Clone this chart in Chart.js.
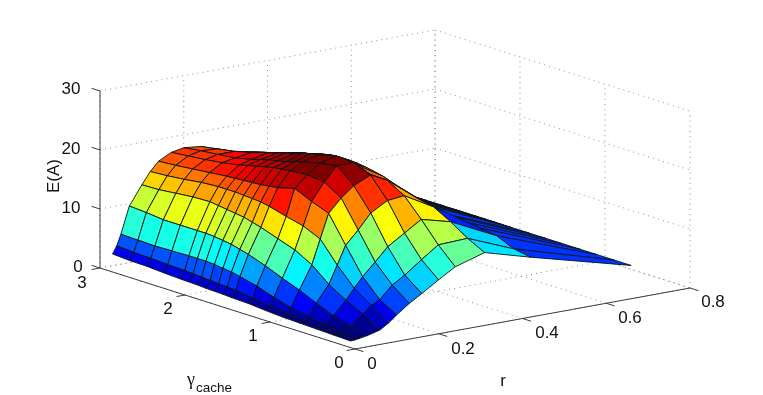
<!DOCTYPE html>
<html><head><meta charset="utf-8">
<style>html,body{margin:0;padding:0;background:#fff}canvas{display:block;filter:blur(0.4px)}</style>
<script src="https://cdn.jsdelivr.net/npm/chart.js@4"></script>
</head><body><canvas id="c" width="763" height="395"></canvas>
<script>
// surface grid
const rValues = [0.03,0.04,0.05,0.07,0.1,0.12,0.14,0.17,0.2,0.24,0.28,0.35,0.46,0.7];
const gammaValues = [3,2.8,2.6,2.4,2.2,2.1,2,1.9,1.8,1.7,1.6,1.4,1.2,1,0.8,0.6,0.4,0.2];
const zAtR003 = [2.0,1.8,1.75,1.55,1.4,1.35,1.3,1.2,1.15,1.1,1.0,0.9,0.65,0.45,0.35,0.25,0.15,0.05];
const zAtR004 = [3.25,3.05,2.95,2.8,2.7,2.6,2.5,2.4,2.3,2.2,2.1,1.7,1.25,0.9,0.6,0.4,0.25,0.1];
const zAtR005 = [5.1,5,4.9,5,5.1,5.1,5.1,5,4.8,4.6,4.3,3.6,2.6,1.8,1.2,0.8,0.4,0.2];
const zAtR007 = [9.6,9.4,9.1,9.1,9.1,9.1,9,8.8,8.6,8.2,7.8,6.8,5.6,4.5,3.2,2,1.1,0.45];
const zAtR010 = [12.8,12.9,13.2,13.5,13.6,13.4,13.2,13,12.8,12.4,12,11,10,8.4,6,4.2,2.8,1];
const zAtR012 = [14.8,15,15.3,15.7,15.9,15.9,15.9,15.8,15.7,15.6,15.3,14.5,13.8,12.5,9,6,4,1.9];
const zAtR014 = [16.3,16.5,16.8,17.1,17.4,17.5,17.6,17.7,17.8,18,18.2,19,17.7,16.6,12.1,7.7,4.7,3.05];
const zAtR017 = [17.4,17.7,18,18.4,18.9,19.3,19.6,20,20.3,20.5,20.7,20.9,20.6,18.8,14.3,9.8,6.8,4.6];
const zAtR020 = [17.8,18.2,18.5,18.8,19.5,19.9,20.3,20.6,20.9,21.4,21.8,22.5,23,20.5,16.8,12,8.1,5.9];
const zAtR024 = [17.5,18,18.5,19.2,20.1,20.5,21,21.3,21.9,22.2,22.5,23.2,23,21.8,18.4,13.8,10.2,7.7];
const zAtR028 = [16.4,17,17.9,18.7,19.6,20,20.4,20.7,21,21.2,21.4,21.4,20.5,20.4,18.7,15.6,12.2,9.4];
const zAtR035 = [14,15.5,16.8,17.7,18.5,18.9,19.2,19.3,19.3,19.2,19,18.4,17.4,16.5,15.9,14.3,12.4,10.9];
const zAtR046 = [12.3,12.3,12.3,12.3,12.3,12.3,12.3,12.3,12.2,12,11.8,11.2,11.3,11.1,10.9,10.5,9.2,8.7];
const zAtR070 = [4.2,4.2,4.2,4.2,4.2,4.2,4.2,4.2,4.2,4.2,4.2,4.2,4.2,4.2,4.2,4.2,4.2,4.2];
const zRows = [zAtR003,zAtR004,zAtR005,zAtR007,zAtR010,zAtR012,zAtR014,zAtR017,zAtR020,zAtR024,zAtR028,zAtR035,zAtR046,zAtR070];
// colour level of the long strip that follows r=0.35
const stripLevel = [4,4,4,4,4,4,4,4,4,4,4,4,4,4,4,4,7.9,8];
// axes
const zTicks = [0,10,20,30];
const rTicks = [0,0.2,0.4,0.6,0.8];
const gammaTicks = [0,1,2,3];
const rTickLabels = ['0','0.2','0.4','0.6','0.8'];
const gammaTickLabels = ['0','1','2','3'];
const zTickLabels = ['0','10','20','30'];

// orthographic view of the box
const rMax=0.8, gammaMax=3, zMax=30;
const view={ox:355,oy:349,rx:335,ry:-61,gx:-255,gy:-81,zy:-177};
function P(r,g,z){return {x:view.ox+view.rx*r/rMax+view.gx*g/gammaMax,
                          y:view.oy+view.ry*r/rMax+view.gy*g/gammaMax+view.zy*z/zMax};}
function depth(r,g,z){return 246*r/rMax+327*g/gammaMax-44*z/zMax;}
function jet(v){
  let t=Math.max(0,Math.min(1,(v-0.6)/21.5));
  t=Math.round(t*63)/63;
  const c=x=>Math.round(255*Math.max(0,Math.min(1,1.5-Math.abs(4*x))));
  return `rgb(${c(t-0.75)},${c(t-0.5)},${c(t-0.25)})`;
}
const cells=[];
for(let i=0;i<rValues.length-1;i++){
  for(let j=0;j<gammaValues.length-1;j++){
    const c=[[i,j],[i+1,j],[i+1,j+1],[i,j+1]];
    const pts=c.map(([a,b])=>P(rValues[a],gammaValues[b],zRows[a][b]));
    pts.push(pts[0]);
    const d=c.reduce((s,[a,b])=>s+depth(rValues[a],gammaValues[b],zRows[a][b]),0)/4;
    const level=(i===rValues.length-3)?stripLevel[j+1]:zRows[i+1][j+1];
    cells.push({pts,d,level});
  }
}
cells.sort((a,b)=>a.d-b.d); // nearest first: earlier datasets are painted last
const surface=cells.map(c=>({data:c.pts,showLine:true,fill:'shape',tension:0,pointRadius:0,
  borderWidth:1,borderColor:'rgba(10,20,20,0.9)',backgroundColor:jet(c.level)}));

function seg(a,b,color,dash,w){return {data:[a,b],showLine:true,fill:false,tension:0,pointRadius:0,
  borderWidth:w||1,borderColor:color,borderDash:dash||[]};}
const dots=[1,4.2], grey='#8c8c8c', dark='#3c3c3c';
const grid=[];
for(const r of rTicks){
  grid.push(seg(P(r,0,0),P(r,gammaMax,0),grey,dots));
  grid.push(seg(P(r,gammaMax,0),P(r,gammaMax,zMax),grey,dots));
}
for(const g of gammaTicks){
  grid.push(seg(P(0,g,0),P(rMax,g,0),grey,dots));
  grid.push(seg(P(rMax,g,0),P(rMax,g,zMax),grey,dots));
}
for(const z of zTicks){
  grid.push(seg(P(0,gammaMax,z),P(rMax,gammaMax,z),grey,dots));
  grid.push(seg(P(rMax,gammaMax,z),P(rMax,0,z),grey,dots));
}
const axes=[seg(P(0,gammaMax,0),P(0,0,0),dark),seg(P(0,0,0),P(rMax,0,0),dark),seg(P(0,gammaMax,0),P(0,gammaMax,zMax),dark)];
const tr=0.02, tg=0.1;
for(const r of rTicks) axes.push(seg(P(r,0,0),P(r,-tg,0),dark));
for(const g of gammaTicks) axes.push(seg(P(0,g,0),P(-tr,g,0),dark));
for(const z of zTicks) axes.push(seg(P(0,gammaMax,z),P(0,gammaMax+tg,z),dark));

const zLabelPos=[[78,267],[71,208],[71,149],[71,89]];
const gLabelPos=[[339,363],[253,336],[168,309],[82,283]];
const rLabelPos=[[372,364],[463,349],[547,333],[630,318],[713,302]];
const textPlugin={id:'axisText',afterDraw(ch){
  const x=ch.ctx; x.save(); x.fillStyle='#111';
  x.textAlign='center'; x.textBaseline='middle';
  x.font='17px "Liberation Sans"';
  zTickLabels.forEach((t,i)=>x.fillText(t,zLabelPos[i][0],zLabelPos[i][1]));
  gammaTickLabels.forEach((t,i)=>x.fillText(t,gLabelPos[i][0],gLabelPos[i][1]));
  rTickLabels.forEach((t,i)=>x.fillText(t,rLabelPos[i][0],rLabelPos[i][1]));
  x.fillText('r',503,381);
  x.save(); x.translate(54,176); x.rotate(-Math.PI/2); x.fillText('E(A)',0,0); x.restore();
  x.textAlign='left'; x.textBaseline='alphabetic';
  x.font='18px "Liberation Serif"'; x.fillText('\u03b3',187,385);
  x.font='13.5px "Liberation Sans"'; x.fillText('cache',196,392);
  x.restore();
}};
new Chart(document.getElementById('c'),{
  type:'scatter',
  data:{datasets:[...surface,...axes,...grid]},
  plugins:[textPlugin],
  options:{responsive:false,animation:false,events:[],
    layout:{padding:0},
    plugins:{legend:{display:false},tooltip:{enabled:false},title:{display:false}},
    scales:{x:{type:'linear',min:0,max:763,display:false},
            y:{type:'linear',min:0,max:395,reverse:true,display:false}}}
});
</script></body></html>
